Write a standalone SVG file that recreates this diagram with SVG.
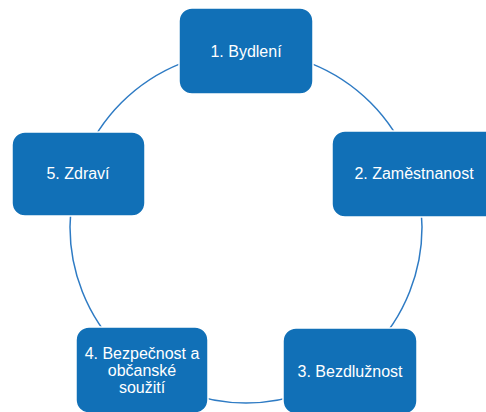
<svg xmlns="http://www.w3.org/2000/svg" width="486" height="412" viewBox="0 0 486 412">
  <style>
    .box { fill: #1170B7; stroke: #ffffff; stroke-width: 1.5; }
    .lbl { fill: #ffffff; font-family: "Liberation Sans", Arial, sans-serif; font-size: 16px; text-anchor: middle; }
    .ring { fill: none; stroke: #2E7BC4; stroke-width: 1.5; }
  </style>
  <rect width="486" height="412" fill="#ffffff"/>
  <g id="connectors">
    <circle class="ring" cx="246" cy="227" r="176"/>
  </g>
  <g id="node1">
    <rect class="box" x="179" y="8" width="134" height="86" rx="13"/>
    <text class="lbl" x="246" y="57">1. Bydlení</text>
  </g>
  <g id="node2">
    <rect class="box" x="332" y="131" width="166" height="86" rx="13"/>
    <text class="lbl" x="414" y="179">2. Zaměstnanost</text>
  </g>
  <g id="node3">
    <rect class="box" x="283" y="328" width="134" height="86" rx="13"/>
    <text class="lbl" x="350" y="377">3. Bezdlužnost</text>
  </g>
  <g id="node4">
    <rect class="box" x="76" y="327" width="132" height="86" rx="13"/>
    <text class="lbl" x="142" y="359">4. Bezpečnost a</text>
    <text class="lbl" x="142" y="376">občanské</text>
    <text class="lbl" x="142" y="393">soužití</text>
  </g>
  <g id="node5">
    <rect class="box" x="12" y="132" width="133" height="84" rx="13"/>
    <text class="lbl" x="78" y="179">5. Zdraví</text>
  </g>
</svg>
